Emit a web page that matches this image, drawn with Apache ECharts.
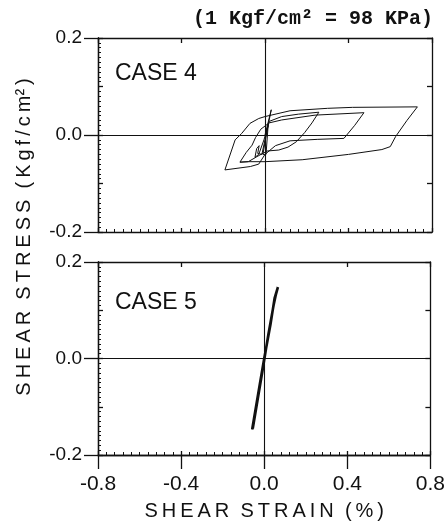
<!DOCTYPE html>
<html>
<head>
<meta charset="utf-8">
<script src="https://cdn.jsdelivr.net/npm/echarts@6/dist/echarts.min.js"></script>
<style>
  html, body { margin: 0; padding: 0; background: #fff; }
  #chart { width: 448px; height: 529px; }
</style>
</head>
<body>
<div id="chart"></div>
<script>
// ── data ────────────────────────────────────────────
const strainTicks = [-0.8, -0.4, 0.0, 0.4, 0.8];
const stressTicks = [-0.2, 0.0, 0.2];

// CASE 4: growing hysteresis loops, traced in drawing order
const case4Strain = [
  0.000, 0.030, 0.010, -0.010, 0.005, 0.015, -0.005, -0.030, -0.048, -0.040,
  -0.028, -0.035, -0.015, 0.000, 0.020,
  0.080, 0.160, 0.258, 0.225, 0.190, 0.150, 0.110, 0.066, 0.010, -0.040,
  -0.080, -0.120,
  -0.090, -0.062, -0.045, -0.020, 0.020, 0.080, 0.240, 0.474, 0.430, 0.378,
  0.250, 0.120, 0.050, 0.000, -0.030, -0.070, -0.192,
  -0.143, -0.112, -0.072, -0.030, 0.000, 0.120, 0.300, 0.420, 0.730, 0.680,
  0.626, 0.600, 0.560, 0.400, 0.178, 0.000, -0.080, -0.120
];
const case4Stress = [
  0.000, 0.052, 0.010, -0.040, -0.040, 0.020, -0.010, -0.040, -0.046, -0.028,
  -0.022, -0.038, -0.040, -0.010, 0.028,
  0.038, 0.043, 0.047, 0.025, 0.005, -0.014, -0.025, -0.031, -0.033, -0.045,
  -0.055, -0.056,
  -0.036, -0.021, -0.005, 0.012, 0.025, 0.031, 0.041, 0.046, 0.020, -0.007,
  -0.009, -0.012, -0.022, -0.040, -0.060, -0.065, -0.072,
  -0.010, 0.003, 0.024, 0.034, 0.038, 0.050, 0.055, 0.057, 0.058, 0.030,
  -0.003, -0.024, -0.030, -0.040, -0.051, -0.055, -0.055, -0.056
];

// CASE 5: nearly straight, stiff response
const case5Strain = [-0.058, -0.020, 0.000, 0.030, 0.050, 0.066, 0.055, 0.045, 0.020, -0.010, -0.055];
const case5Stress = [-0.147, -0.050, 0.000, 0.070, 0.125, 0.148, 0.130, 0.110, 0.050, -0.030, -0.145];

const zip = (xs, ys) => xs.map((x, i) => [x, ys[i]]);

// ── styles ─────────────────────────────
const INK = "#111";
const FONT = "Liberation Sans";
const lineStyle = { color: INK, width: 1.3 };
const fmt = (v) => (Math.abs(v) < 1e-9 ? "0.0" : v.toFixed(1));

function xAxes(gridIndex, withLabels) {
  const base = { type: "value", gridIndex, min: -0.8, max: 0.8, interval: 0.4,
    splitLine: { show: false }, axisLine: { onZero: false, lineStyle } };
  const list = [
    // inner ticks + minor ticks on the bottom edge
    { ...base, position: "bottom",
      axisTick: { inside: true, length: 4, lineStyle },
      minorTick: { show: true, splitNumber: 10, length: 3, lineStyle: { color: INK, width: 1 } },
      axisLabel: { show: false } },
    // top edge
    { ...base, position: "top",
      axisTick: { inside: true, length: 5, lineStyle },
      axisLabel: { show: false } },
  ];
  if (withLabels) {
    list.push({ ...base, position: "bottom",
      axisTick: { inside: false, length: 14, lineStyle },
      axisLabel: { show: true, margin: 19, color: INK, fontFamily: FONT, fontSize: 21,
        formatter: (v) => (strainTicks.some(t => Math.abs(t - v) < 1e-9) ? fmt(v) : "") },
      name: "S\u2009H\u2009E\u2009A\u2009R  S\u2009T\u2009R\u2009A\u2009I\u2009N  (\u2009%\u2009)",
      nameLocation: "middle", nameGap: 46,
      nameTextStyle: { color: INK, fontFamily: FONT, fontSize: 20 } });
  }
  return list;
}

function yAxes(gridIndex) {
  const base = { type: "value", gridIndex, min: -0.2, max: 0.2,
    splitLine: { show: false }, axisLine: { onZero: false, lineStyle } };
  return [
    // labelled axis: long leader ticks
    { ...base, position: "left", interval: 0.2,
      axisTick: { inside: false, length: 14, lineStyle },
      axisLabel: { show: true, margin: 16, color: INK, fontFamily: FONT, fontSize: 19,
        formatter: (v) => (stressTicks.some(t => Math.abs(t - v) < 1e-9) ? fmt(v) : "") } },
    // inner ticks + minor ticks
    { ...base, position: "left", interval: 0.1,
      axisTick: { inside: true, length: 5, lineStyle },
      minorTick: { show: true, splitNumber: 10, length: 3, lineStyle: { color: INK, width: 1 } },
      axisLabel: { show: false } },
    // right edge
    { ...base, position: "right", interval: 0.1,
      axisTick: { inside: true, length: 5, lineStyle },
      axisLabel: { show: false } },
  ];
}

const zeroLines = {
  silent: true, symbol: "none", animation: false,
  label: { show: false },
  lineStyle: { color: INK, type: "solid", width: 1.1 },
  data: [{ xAxis: 0 }, { yAxis: 0 }],
};

const xAxisList = [...xAxes(0, false), ...xAxes(1, true)];   // 0,1 | 2,3,4
const yAxisList = [...yAxes(0), ...yAxes(1)];                 // 0,1,2 | 3,4,5

const chart = echarts.init(document.getElementById("chart"), null, { renderer: "canvas" });

chart.setOption({
  backgroundColor: "#fff",
  animation: false,
  title: {
    text: "(1 Kgf/cm\u00b2 = 98 KPa)",
    right: 10, top: 4,
    textStyle: { color: INK, fontFamily: "Liberation Mono", fontWeight: "bold", fontSize: 20 },
  },
  grid: [
    { left: 98, top: 38, width: 334, height: 194 },
    { left: 98, top: 262, width: 334, height: 193 },
  ],
  xAxis: xAxisList,
  yAxis: yAxisList,
  graphic: [
    { type: "text", left: 115, top: 62,
      style: { text: "CASE 4", fill: INK, font: `23px "${FONT}"` } },
    { type: "text", left: 115, top: 291,
      style: { text: "CASE 5", fill: INK, font: `23px "${FONT}"` } },
    { type: "text", x: 24, y: 237, rotation: Math.PI / 2,
      style: { text: "S\u2009H\u2009E\u2009A\u2009R  S\u2009T\u2009R\u2009E\u2009S\u2009S  (\u2009K\u2009g\u2009f\u2009/\u2009c\u2009m\u00b2\u2009)",
        fill: INK, font: `20px "${FONT}"`, align: "center", verticalAlign: "middle" } },
  ],
  series: [
    { type: "line", name: "CASE 4", xAxisIndex: 0, yAxisIndex: 0,
      data: zip(case4Strain, case4Stress), showSymbol: false, smooth: false,
      lineStyle: { color: INK, width: 1 }, markLine: zeroLines },
    { type: "line", name: "CASE 5", xAxisIndex: 2, yAxisIndex: 3,
      data: zip(case5Strain, case5Stress), showSymbol: false, smooth: false,
      lineStyle: { color: INK, width: 2.6 }, markLine: zeroLines },
  ],
});
</script>
</body>
</html>
